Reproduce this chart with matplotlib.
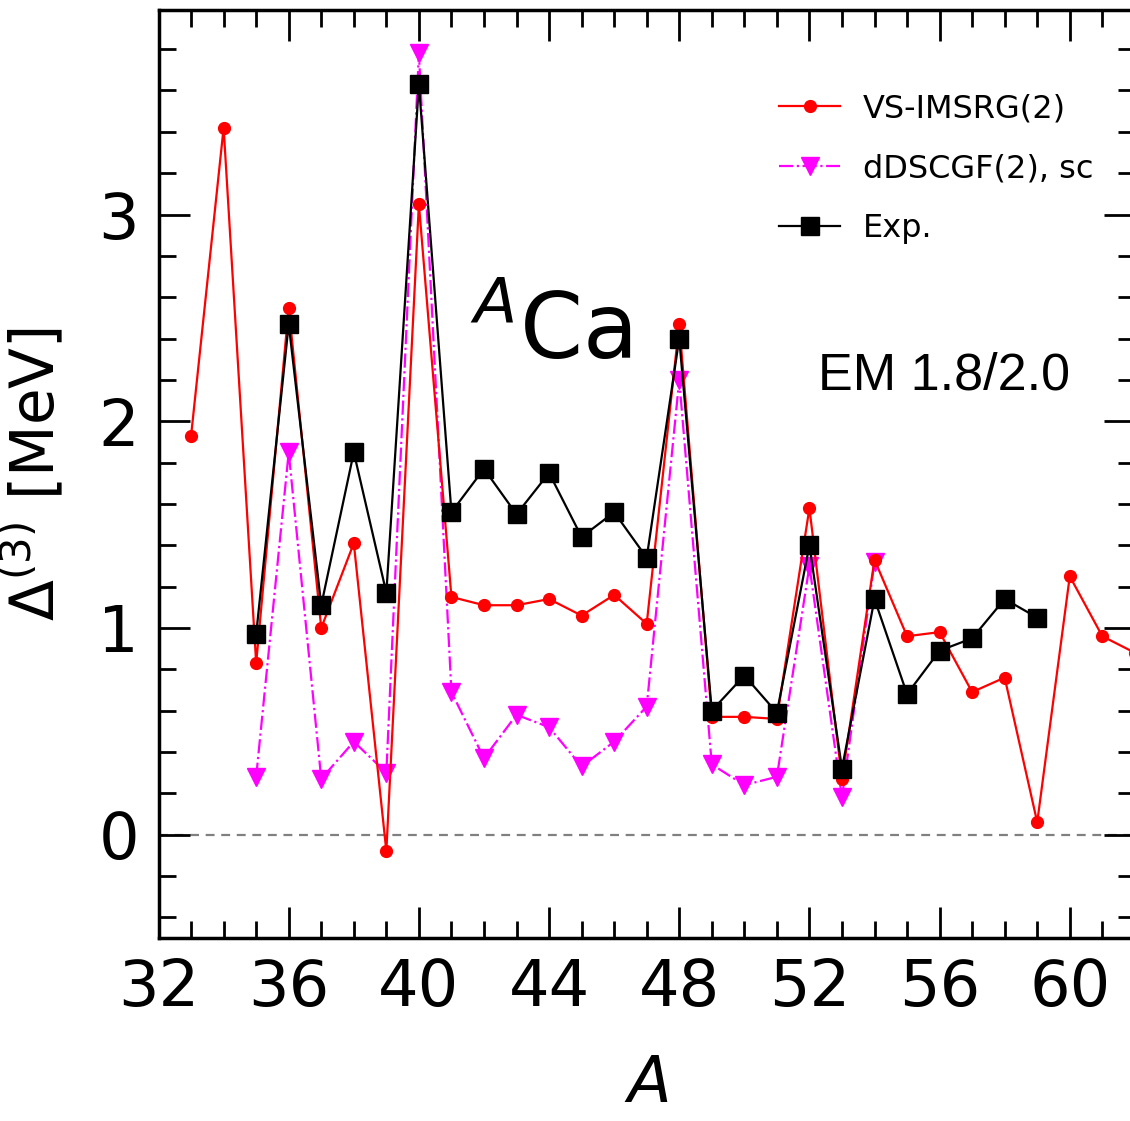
import matplotlib
matplotlib.use("Agg")
import matplotlib.pyplot as plt
from matplotlib.ticker import MultipleLocator

plt.rcParams['mathtext.fontset'] = 'dejavusans'

# VS-IMSRG(2)
a_imsrg = [33, 34, 35, 36, 37, 38, 39, 40, 41, 42, 43, 44, 45, 46, 47, 48,
           49, 50, 51, 52, 53, 54, 55, 56, 57, 58, 59, 60, 61, 62]
d_imsrg = [1.93, 3.42, 0.83, 2.55, 1.00, 1.41, -0.08, 3.05, 1.15, 1.11, 1.11,
           1.14, 1.06, 1.16, 1.02, 2.47, 0.57, 0.57, 0.56, 1.58, 0.27, 1.33,
           0.96, 0.98, 0.69, 0.76, 0.06, 1.25, 0.96, 0.88]

# dDSCGF(2), sc
a_scgf = [35, 36, 37, 38, 39, 40, 41, 42, 43, 44, 45, 46, 47, 48, 49, 50,
          51, 52, 53, 54]
d_scgf = [0.28, 1.85, 0.27, 0.45, 0.30, 3.78, 0.69, 0.37, 0.58, 0.52, 0.33,
          0.45, 0.62, 2.20, 0.34, 0.24, 0.28, 1.30, 0.18, 1.32]

# experiment
a_exp = [35, 36, 37, 38, 39, 40, 41, 42, 43, 44, 45, 46, 47, 48, 49, 50, 51,
         52, 53, 54, 55, 56, 57, 58, 59]
d_exp = [0.97, 2.47, 1.11, 1.85, 1.17, 3.63, 1.56, 1.77, 1.55, 1.75, 1.44,
         1.56, 1.34, 2.40, 0.60, 0.77, 0.59, 1.40, 0.32, 1.14, 0.68, 0.89,
         0.95, 1.14, 1.05]

fig = plt.figure(figsize=(11.3, 11.21), dpi=100)
ax = fig.add_axes([0.1403, 0.1632, 0.864, 0.828])

ax.axhline(0, color='gray', ls=(0, (4, 3)), lw=1.6, zorder=1)

ax.plot(a_imsrg, d_imsrg, '-o', color='red', lw=1.6, ms=8.5,
        label='VS-IMSRG(2)', zorder=3)
ax.plot(a_scgf, d_scgf, '-.v', color='magenta', lw=1.6, ms=13,
        label='dDSCGF(2), sc', zorder=2)
ax.plot(a_exp, d_exp, '-s', color='black', lw=1.6, ms=13,
        label='Exp.', zorder=4)

ax.set_xlim(32, 62)
ax.set_ylim(-0.5, 3.99)
ax.xaxis.set_major_locator(MultipleLocator(4))
ax.xaxis.set_minor_locator(MultipleLocator(1))
ax.yaxis.set_major_locator(MultipleLocator(1))
ax.yaxis.set_minor_locator(MultipleLocator(0.2))
ax.tick_params(which='both', direction='in', top=True, right=True, width=2)
ax.tick_params(which='major', length=22, labelsize=46, pad=14)
ax.tick_params(which='minor', length=12)
for s in ax.spines.values():
    s.set_linewidth(2.5)

ax.set_xlabel('$\\it{A}$', fontsize=46, labelpad=24)
ax.set_ylabel('$\\Delta^{(3)}$ [MeV]', fontsize=43, labelpad=22)

ax.text(41.57, 2.30, '$^{A}$Ca', fontsize=65, ha='left', va='baseline')
ax.text(52.26, 2.155, 'EM 1.8/2.0', fontsize=37.5, family='Liberation Sans',
        ha='left', va='baseline')

ax.legend(loc='upper left', bbox_to_anchor=(0.636, 0.91), frameon=False,
          fontsize=23, handlelength=1.9, labelspacing=0.9,
          handletextpad=0.7, borderpad=0, borderaxespad=0)

fig.savefig('out.png', dpi=100)
